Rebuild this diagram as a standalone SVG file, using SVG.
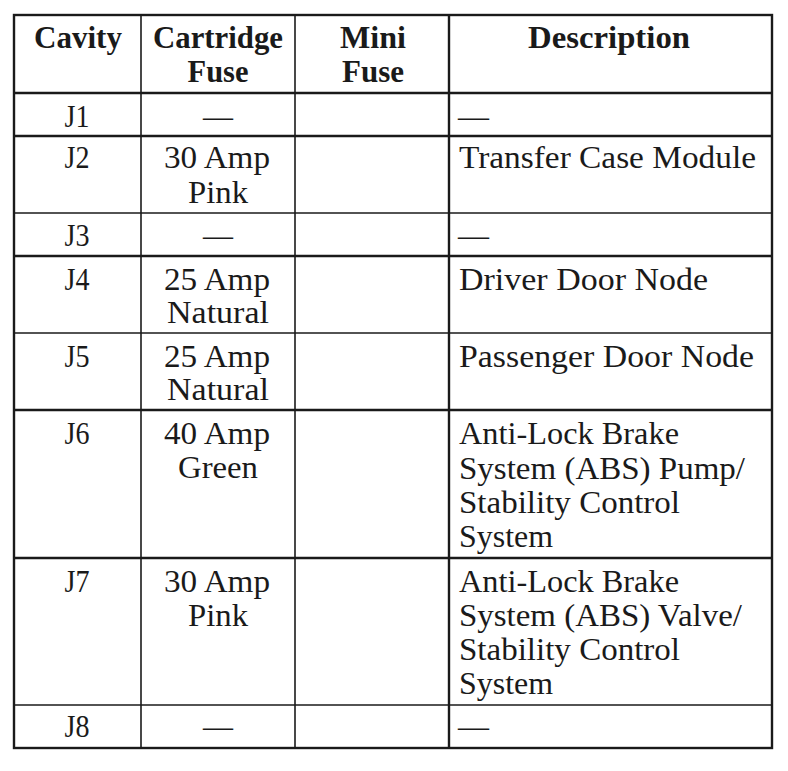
<svg xmlns="http://www.w3.org/2000/svg" width="788" height="771" viewBox="0 0 788 771">
<style>
.t{font-family:"Liberation Serif","Times New Roman",serif;font-size:31px;fill:#1a1a1a}
.h{font-family:"Liberation Serif","Times New Roman",serif;font-size:31px;font-weight:bold;fill:#1a1a1a}
.c{text-anchor:middle}
.g{stroke:#1a1a1a;stroke-width:1.6;fill:none}
.o{stroke:#1a1a1a;stroke-width:2.4;fill:none}
</style>
<rect width="788" height="771" fill="#ffffff"/>
<g id="grid">
<rect class="o" x="14" y="15" width="758" height="733"/>
<line class="g" x1="141" y1="15" x2="141" y2="748"/>
<line class="g" x1="295" y1="15" x2="295" y2="748"/>
<line class="o" x1="449" y1="15" x2="449" y2="748"/>
<line class="o" x1="14" y1="93" x2="772" y2="93"/>
<line class="o" x1="14" y1="136" x2="772" y2="136"/>
<line class="g" x1="14" y1="213" x2="772" y2="213"/>
<line class="o" x1="14" y1="256" x2="772" y2="256"/>
<line class="g" x1="14" y1="333" x2="772" y2="333"/>
<line class="o" x1="14" y1="410" x2="772" y2="410"/>
<line class="o" x1="14" y1="558" x2="772" y2="558"/>
<line class="g" x1="14" y1="705" x2="772" y2="705"/>
</g>
<g id="header">
<text class="h c" x="78" y="48" textLength="88" lengthAdjust="spacingAndGlyphs">Cavity</text>
<text class="h c" x="218" y="48" textLength="130" lengthAdjust="spacingAndGlyphs">Cartridge</text>
<text class="h c" x="218" y="82" textLength="61" lengthAdjust="spacingAndGlyphs">Fuse</text>
<text class="h c" x="373" y="48" textLength="66" lengthAdjust="spacingAndGlyphs">Mini</text>
<text class="h c" x="373" y="82" textLength="62" lengthAdjust="spacingAndGlyphs">Fuse</text>
<text class="h c" x="609" y="48" textLength="162" lengthAdjust="spacingAndGlyphs">Description</text>
</g>
<g id="row-j1">
<text class="t c" x="77" y="127" textLength="25" lengthAdjust="spacingAndGlyphs">J1</text>
<text class="t c" x="218" y="127" textLength="30" lengthAdjust="spacingAndGlyphs">—</text>
<text class="t" x="458" y="127" textLength="31" lengthAdjust="spacingAndGlyphs">—</text>
</g>
<g id="row-j2">
<text class="t c" x="77" y="168" textLength="25" lengthAdjust="spacingAndGlyphs">J2</text>
<text class="t c" x="217" y="168" textLength="106" lengthAdjust="spacingAndGlyphs">30 Amp</text>
<text class="t c" x="218" y="203" textLength="60" lengthAdjust="spacingAndGlyphs">Pink</text>
<text class="t" x="459" y="168" textLength="297" lengthAdjust="spacingAndGlyphs">Transfer Case Module</text>
</g>
<g id="row-j3">
<text class="t c" x="77" y="246" textLength="25" lengthAdjust="spacingAndGlyphs">J3</text>
<text class="t c" x="218" y="246" textLength="30" lengthAdjust="spacingAndGlyphs">—</text>
<text class="t" x="458" y="246" textLength="31" lengthAdjust="spacingAndGlyphs">—</text>
</g>
<g id="row-j4">
<text class="t c" x="77" y="290" textLength="25" lengthAdjust="spacingAndGlyphs">J4</text>
<text class="t c" x="217" y="290" textLength="106" lengthAdjust="spacingAndGlyphs">25 Amp</text>
<text class="t c" x="218" y="323" textLength="102" lengthAdjust="spacingAndGlyphs">Natural</text>
<text class="t" x="459" y="290" textLength="249" lengthAdjust="spacingAndGlyphs">Driver Door Node</text>
</g>
<g id="row-j5">
<text class="t c" x="77" y="367" textLength="25" lengthAdjust="spacingAndGlyphs">J5</text>
<text class="t c" x="217" y="367" textLength="106" lengthAdjust="spacingAndGlyphs">25 Amp</text>
<text class="t c" x="218" y="400" textLength="102" lengthAdjust="spacingAndGlyphs">Natural</text>
<text class="t" x="459" y="367" textLength="295" lengthAdjust="spacingAndGlyphs">Passenger Door Node</text>
</g>
<g id="row-j6">
<text class="t c" x="77" y="444" textLength="25" lengthAdjust="spacingAndGlyphs">J6</text>
<text class="t c" x="217" y="444" textLength="106" lengthAdjust="spacingAndGlyphs">40 Amp</text>
<text class="t c" x="218" y="478" textLength="80" lengthAdjust="spacingAndGlyphs">Green</text>
<text class="t" x="459" y="444" textLength="220" lengthAdjust="spacingAndGlyphs">Anti-Lock Brake</text>
<text class="t" x="459" y="479" textLength="286" lengthAdjust="spacingAndGlyphs">System (ABS) Pump/</text>
<text class="t" x="459" y="513" textLength="221" lengthAdjust="spacingAndGlyphs">Stability Control</text>
<text class="t" x="459" y="547" textLength="94" lengthAdjust="spacingAndGlyphs">System</text>
</g>
<g id="row-j7">
<text class="t c" x="77" y="592" textLength="25" lengthAdjust="spacingAndGlyphs">J7</text>
<text class="t c" x="217" y="592" textLength="106" lengthAdjust="spacingAndGlyphs">30 Amp</text>
<text class="t c" x="218" y="626" textLength="60" lengthAdjust="spacingAndGlyphs">Pink</text>
<text class="t" x="459" y="592" textLength="220" lengthAdjust="spacingAndGlyphs">Anti-Lock Brake</text>
<text class="t" x="459" y="626" textLength="283" lengthAdjust="spacingAndGlyphs">System (ABS) Valve/</text>
<text class="t" x="459" y="660" textLength="221" lengthAdjust="spacingAndGlyphs">Stability Control</text>
<text class="t" x="459" y="694" textLength="94" lengthAdjust="spacingAndGlyphs">System</text>
</g>
<g id="row-j8">
<text class="t c" x="77" y="737" textLength="25" lengthAdjust="spacingAndGlyphs">J8</text>
<text class="t c" x="218" y="737" textLength="30" lengthAdjust="spacingAndGlyphs">—</text>
<text class="t" x="458" y="737" textLength="31" lengthAdjust="spacingAndGlyphs">—</text>
</g>
</svg>
